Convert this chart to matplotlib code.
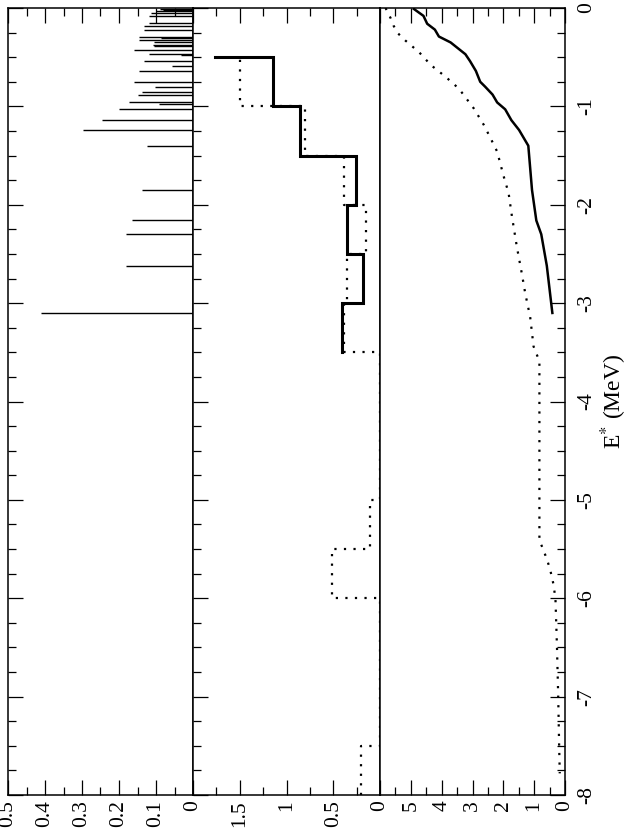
import numpy as np
import matplotlib
matplotlib.use("Agg")
import matplotlib.pyplot as plt
from matplotlib.ticker import MultipleLocator, FixedLocator

plt.rcParams['font.family'] = ['Liberation Serif', 'DejaVu Serif']
plt.rcParams['mathtext.fontset'] = 'stix'

# ---------------- data ----------------
# panel 1: individual strengths (E*, strength)
spec_E = [-3.10, -2.62, -2.30, -2.16, -1.85, -1.40, -1.24, -1.14, -1.03, -0.98,
          -0.96, -0.884, -0.857, -0.80, -0.75, -0.64, -0.586, -0.54, -0.48, -0.47,
          -0.43, -0.39, -0.376, -0.35, -0.325, -0.31, -0.29, -0.22, -0.18, -0.156,
          -0.081, -0.054, -0.035, -0.025, -0.012]
spec_S = [0.41, 0.18, 0.18, 0.165, 0.138, 0.123, 0.296, 0.245, 0.20, 0.091,
          0.172, 0.15, 0.138, 0.102, 0.159, 0.145, 0.057, 0.132, 0.033, 0.118,
          0.159, 0.105, 0.109, 0.105, 0.145, 0.087, 0.145, 0.132, 0.132, 0.12,
          0.12, 0.114, 0.10, 0.08, 0.09]

# panel 2: binned (steps) -- solid
hist_solid_E = [-3.5, -3.0, -2.5, -2.0, -1.5, -1.0, -0.5]
hist_solid_V = [0.41, 0.18, 0.35, 0.26, 0.86, 1.14, 1.76]
# panel 2: binned (steps) -- dotted
hist_dot_E = [-8.0, -7.5, -7.0, -6.5, -6.0, -5.5, -5.0, -4.5, -4.0, -3.5,
              -3.0, -2.5, -2.0, -1.5, -1.0, -0.5]
hist_dot_V = [0.20, 0.0, 0.0, 0.0, 0.51, 0.11, 0.0, 0.0, 0.0, 0.39,
              0.35, 0.15, 0.39, 0.80, 1.50, 1.50]

# panel 3: cumulative -- solid
cum_solid_E = [-3.10, -2.62, -2.30, -2.16, -1.85, -1.40, -1.24, -1.14, -1.03, -0.96,
               -0.88, -0.80, -0.75, -0.64, -0.54, -0.47, -0.43, -0.35, -0.29, -0.22,
               -0.16, -0.08, -0.01]
cum_solid_V = [0.41, 0.59, 0.77, 0.93, 1.07, 1.19, 1.49, 1.74, 1.94, 2.20,
               2.35, 2.59, 2.75, 2.89, 3.08, 3.23, 3.39, 3.71, 4.09, 4.22,
               4.47, 4.59, 4.90]
# panel 3: cumulative -- dotted
cum_dot_E = [0.0, -0.10, -0.18, -0.26, -0.33, -0.45, -0.58, -0.70, -0.82, -1.02,
             -1.19, -1.32, -1.46, -1.71, -1.88, -2.12, -2.43, -2.70, -2.90, -3.14,
             -3.44, -3.59, -5.41, -5.51, -5.61, -5.71, -5.85, -6.00, -6.50, -7.00,
             -7.50, -7.78]
cum_dot_V = [5.82, 5.66, 5.56, 5.41, 5.18, 4.73, 4.35, 3.87, 3.44, 2.96,
             2.63, 2.42, 2.20, 1.99, 1.83, 1.72, 1.56, 1.40, 1.29, 1.13,
             1.02, 0.83, 0.83, 0.70, 0.58, 0.48, 0.38, 0.31, 0.26, 0.22,
             0.19, 0.17]

e_ticks = [0, -1, -2, -3, -4, -5, -6, -7, -8]
e_labels = ["0", "-1", "-2", "-3", "-4", "-5", "-6", "-7", "-8"]
p1_ticks = [0, 0.1, 0.2, 0.3, 0.4, 0.5]
p1_labels = ["0", "0.1", "0.2", "0.3", "0.4", "0.5"]
p2_ticks = [0, 0.5, 1.0, 1.5, 2.0]
p2_labels = ["0", "0.5", "1", "1.5", ""]
p3_ticks = [0, 1, 2, 3, 4, 5, 6]
p3_labels = ["0", "1", "2", "3", "4", "5", ""]

# ---------------- figure ----------------
W, H = 628, 834
fig = plt.figure(figsize=(W / 100, H / 100), dpi=100)
bot = 1 - 795 / H
hgt = (795 - 8) / H
ax1 = fig.add_axes([8 / W, bot, 185 / W, hgt])
ax2 = fig.add_axes([193 / W, bot, 187 / W, hgt])
ax3 = fig.add_axes([380 / W, bot, 185 / W, hgt])

FS = 15.5
dotted = (0, (1, 3.3))


def steps_post_vertical(E, V):
    E = np.asarray(E, float)
    V = np.asarray(V, float)
    ys = np.repeat(E, 2)[1:]
    xs = np.repeat(V, 2)[:-1]
    return xs, ys


# panel 1
ax1.hlines(spec_E, 0, spec_S, color='k', lw=1.0)
# panel 2
xs, ys = steps_post_vertical(hist_solid_E, hist_solid_V)
ax2.plot(xs, ys, color='k', lw=2.2, solid_joinstyle='miter')
xs, ys = steps_post_vertical(hist_dot_E, hist_dot_V)
ax2.plot(xs, ys, color='k', lw=1.6, linestyle=dotted)
# panel 3
ax3.plot(cum_solid_V, cum_solid_E, color='k', lw=1.8)
ax3.plot(cum_dot_V, cum_dot_E, color='k', lw=1.6, linestyle=dotted)

limits = [(0.5, 0), (2.0, 0), (6.0, 0)]
minors = [0.05, 0.25, 0.5]
xticks = [(p1_ticks, p1_labels), (p2_ticks, p2_labels), (p3_ticks, p3_labels)]
for ax, lim, mn, (tk, lb) in zip([ax1, ax2, ax3], limits, minors, xticks):
    ax.set_xlim(*lim)
    ax.set_ylim(-8, 0)
    for s in ax.spines.values():
        s.set_linewidth(1.1)
    ax.xaxis.set_major_locator(FixedLocator(tk))
    ax.set_xticklabels(lb)
    ax.xaxis.set_minor_locator(MultipleLocator(mn))
    ax.xaxis.set_ticks_position('both')
    ax.tick_params(axis='x', which='both', direction='in', width=0.9,
                   labelsize=FS, labelrotation=90, pad=4)
    ax.tick_params(axis='x', which='major', length=11)
    ax.tick_params(axis='x', which='minor', length=5.5)
    ax.yaxis.set_major_locator(FixedLocator(e_ticks))
    ax.yaxis.set_minor_locator(MultipleLocator(0.25))
    ax.tick_params(axis='y', which='both', direction='in', width=0.9)
    ax.tick_params(axis='y', which='major', length=11)
    ax.tick_params(axis='y', which='minor', length=5.5)

for ax in (ax1, ax2):
    ax.yaxis.set_ticks_position('left')
    ax.tick_params(axis='y', labelleft=False)

ax3.yaxis.set_ticks_position('right')
ax3.set_yticklabels(e_labels)
ax3.tick_params(axis='y', labelright=True, labelleft=False, labelsize=FS,
                labelrotation=90, pad=9)
for lab in ax3.get_yticklabels():
    lab.set_va('center')
    lab.set_ha('left')

fig.text(614 / W, bot + hgt / 2, r'E$^{*}$ (MeV)', rotation=90,
         ha='center', va='center', fontsize=17)

fig.savefig('out.png', dpi=100)
